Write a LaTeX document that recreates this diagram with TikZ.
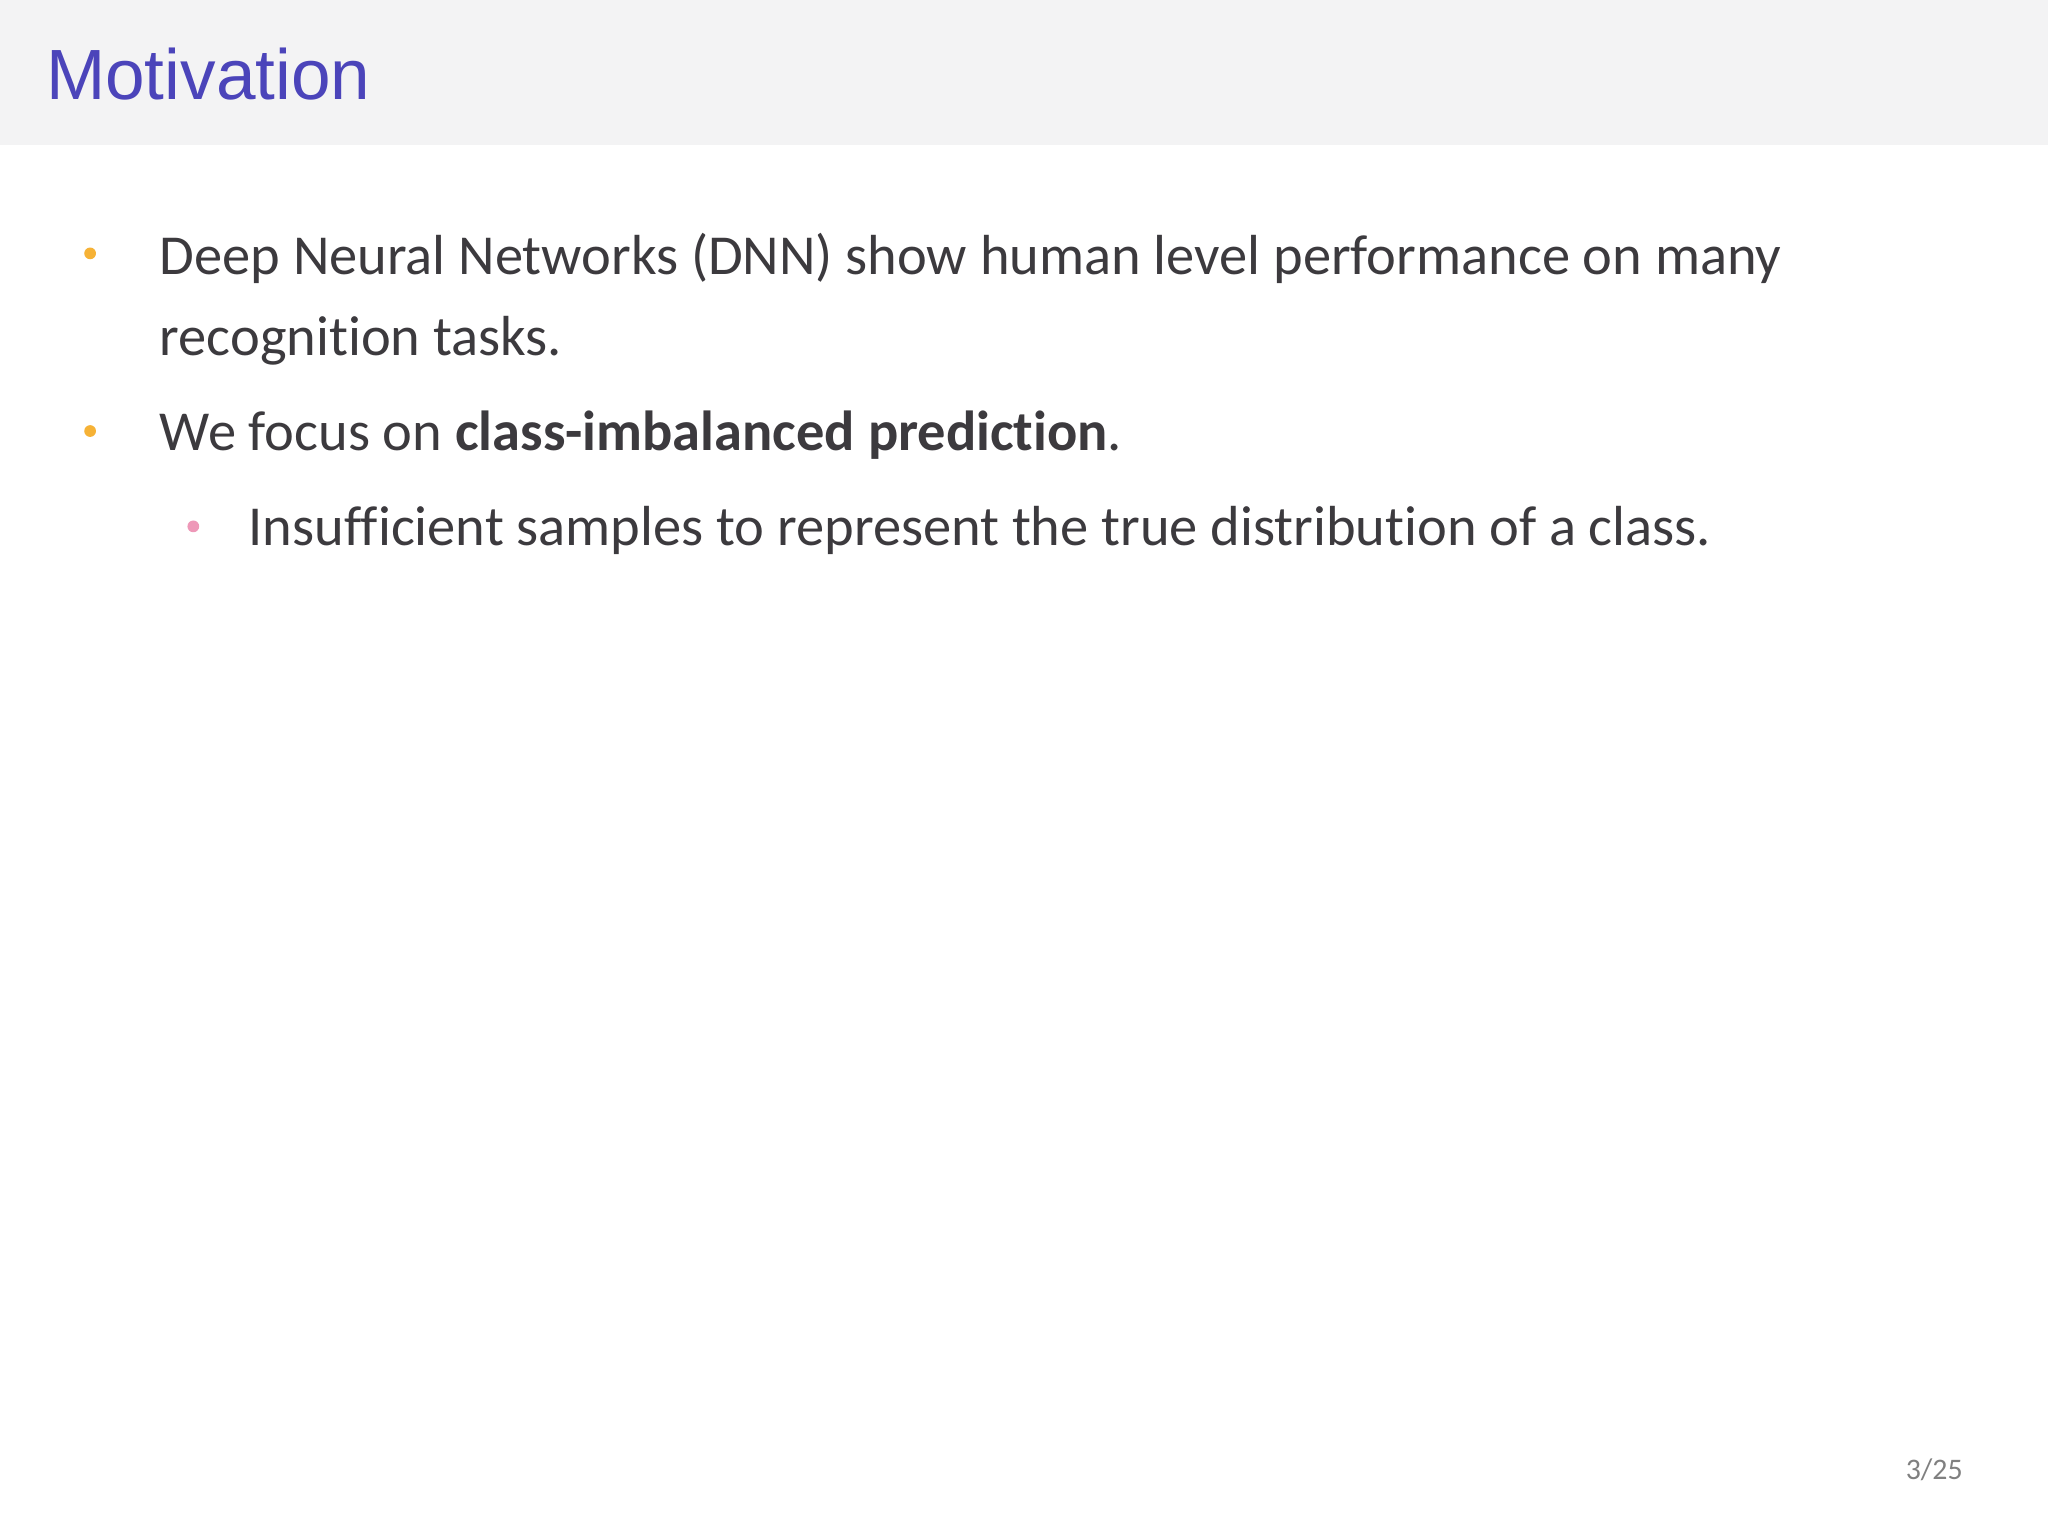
\documentclass[tikz,border=0pt]{standalone}
\usepackage{fontspec}
\setmainfont{Carlito}[Ligatures={NoCommon}]
\newfontfamily\titlefont{Liberation Sans}
\definecolor{hdr}{HTML}{F3F3F4}
\definecolor{ttl}{HTML}{4B44BA}
\definecolor{txt}{HTML}{3C3A3E}
\definecolor{orb}{HTML}{F6B236}
\definecolor{pkb}{HTML}{EE98B8}
\begin{document}
\begin{tikzpicture}[x=0.02cm,y=-0.02cm,
  body/.style={anchor=base west,inner sep=0,text=txt,font=\fontsize{24.6}{28}\selectfont},
  dot/.style={circle,inner sep=0,minimum size=0.18cm}]
\useasboundingbox (0,0) rectangle (1568,1176);
\fill[white] (0,0) rectangle (1568,1176);
\fill[hdr] (0,0) rectangle (1568,111);
\node[anchor=base west,inner sep=0,text=ttl,font=\titlefont\fontsize{31}{36}\selectfont] (title) at (35,76) {Motivation};
\node[dot,fill=orb] (b1) at (69,194) {};
\node[body] (l1) at (122,210) {Deep Neural Networks (DNN) show human level performance on many};
\node[body] (l2) at (122,272) {recognition tasks.};
\node[dot,fill=orb] (b2) at (69,330) {};
\node[body] (l3) at (122,345) {We focus on \textbf{class-imbalanced prediction}.};
\node[dot,fill=pkb] (b3) at (148,403) {};
\node[body] (l4) at (190,418) {Insufficient samples to represent the true distribution of a class.};
\node[anchor=base east,inner sep=0,text=gray,font=\fontsize{13}{15}\selectfont] (pg) at (1503,1133) {3/25};
\end{tikzpicture}
\end{document}
